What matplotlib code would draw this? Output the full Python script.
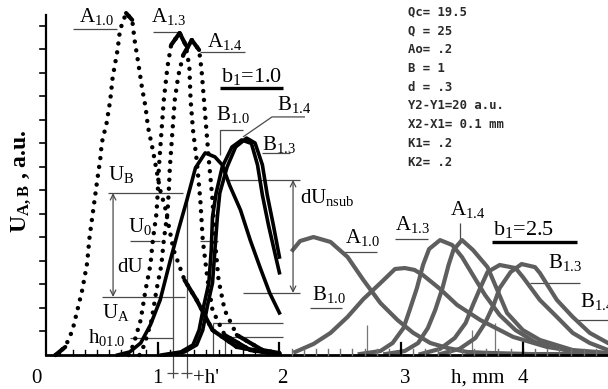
import numpy as np
import matplotlib
matplotlib.use('Agg')
import matplotlib.pyplot as plt
from matplotlib.collections import LineCollection

plt.rcParams['font.family'] = 'Liberation Serif'
plt.rcParams['mathtext.default'] = 'regular'

# --- b1 = 1.0 : signals of sensors A and B (h in mm, U in a.u.) ---
h_a10 = [0.16, 0.24, 0.30, 0.34, 0.38, 0.42, 0.44, 0.47, 0.50, 0.53, 0.54, 0.58,
         0.61, 0.63, 0.67, 0.69, 0.74, 0.79, 0.81, 0.84, 0.87, 0.90, 0.92, 0.96,
         0.99, 1.02, 1.06, 1.13, 1.22, 1.32, 1.45, 1.65, 1.92, 2.00]
u_a10 = [0.0, 0.34, 1.06, 1.91, 2.77, 3.91, 5.02, 6.17, 7.32, 8.43, 9.02, 9.87,
         10.85, 11.83, 12.98, 13.83, 14.55, 14.26, 13.40, 12.43, 11.40, 10.55, 9.70, 8.72,
         7.87, 7.02, 6.30, 4.47, 3.19, 2.34, 1.06, 0.34, 0.09, 0.06]

h_a13 = [0.76, 0.80, 0.86, 0.90, 0.94, 0.96, 0.99, 1.00, 1.01, 1.03, 1.05, 1.08, 1.11,
         1.18, 1.23, 1.26, 1.27, 1.29, 1.32, 1.35, 1.37, 1.41, 1.45, 1.55, 1.76, 2.00]
u_a13 = [0.0, 0.43, 1.49, 2.77, 3.83, 4.89, 6.04, 6.89, 8.0, 9.45, 10.85, 12.26, 13.19,
         13.70, 13.19, 12.26, 10.85, 9.57, 8.30, 6.60, 4.89, 3.19, 1.91, 0.85, 0.21, 0.04]

h_a14 = [0.85, 0.89, 0.95, 0.99, 1.03, 1.05, 1.08, 1.09, 1.10, 1.12, 1.14, 1.17, 1.21,
         1.28, 1.34, 1.36, 1.38, 1.40, 1.42, 1.45, 1.47, 1.50, 1.55, 1.65, 1.86, 2.00]
u_a14 = [0.0, 0.43, 1.49, 2.77, 3.83, 4.89, 6.04, 6.89, 8.0, 9.45, 10.85, 11.91, 12.77,
         13.40, 12.98, 12.13, 10.85, 9.57, 8.30, 6.60, 4.89, 3.19, 1.91, 0.85, 0.21, 0.08]

h_b10 = [0.67, 0.77, 0.86, 0.94, 1.02, 1.10, 1.17, 1.24, 1.31, 1.39, 1.47, 1.53,
         1.59, 1.68, 1.76, 1.84, 1.92, 2.00]
u_b10 = [0.0, 0.13, 0.51, 1.28, 2.34, 3.96, 5.32, 6.60, 7.96, 8.60, 8.43, 8.09,
         7.23, 6.17, 4.89, 3.74, 2.64, 1.79]

h_b13 = [1.06, 1.22, 1.32, 1.37, 1.41, 1.45, 1.47, 1.49, 1.51, 1.57, 1.64, 1.73,
         1.80, 1.86, 1.90, 1.95, 2.00]
u_b13 = [0.0, 0.13, 0.43, 1.06, 2.13, 3.06, 4.47, 5.87, 6.89, 8.0, 8.85, 9.23,
         9.02, 8.09, 6.81, 5.53, 4.17]

h_b14 = [1.03, 1.19, 1.29, 1.34, 1.38, 1.42, 1.44, 1.45, 1.48, 1.53, 1.61, 1.69,
         1.77, 1.82, 1.86, 1.91, 1.97, 2.00]
u_b14 = [0.0, 0.13, 0.43, 1.06, 2.13, 3.06, 4.47, 5.87, 6.89, 8.0, 8.85, 9.15,
         9.0, 8.09, 6.81, 5.53, 4.17, 3.5]

# --- b1 = 2.5 ---
h_ra10 = [2.11, 2.17, 2.28, 2.42, 2.56, 2.69, 2.83, 2.97, 3.10, 3.24, 3.38, 3.54, 3.71, 4.06, 4.70]
u_ra10 = [4.47, 4.85, 5.02, 4.81, 4.17, 3.19, 2.21, 1.49, 0.94, 0.51, 0.30, 0.13, 0.09, 0.04, 0.04]

h_rb10 = [2.13, 2.28, 2.42, 2.56, 2.69, 2.83, 2.95, 3.03, 3.11, 3.18, 3.32, 3.46, 3.65,
          3.92, 4.20, 4.47, 4.70]
u_rb10 = [0.13, 0.47, 0.94, 1.62, 2.38, 3.06, 3.66, 3.70, 3.62, 3.40, 2.81, 2.13, 1.49,
          0.77, 0.34, 0.13, 0.04]

h_ra13 = [2.66, 2.83, 2.93, 3.02, 3.07, 3.13, 3.18, 3.23, 3.32, 3.42, 3.50, 3.59, 3.69,
          3.81, 3.94, 4.10, 4.35, 4.70]
u_ra13 = [0.04, 0.17, 0.51, 1.15, 1.91, 2.85, 3.83, 4.51, 4.89, 4.68, 4.17, 3.40, 2.55,
          1.70, 1.06, 0.55, 0.21, 0.04]

h_ra14 = [2.87, 3.03, 3.14, 3.22, 3.28, 3.34, 3.39, 3.43, 3.50, 3.59, 3.71, 3.79, 3.87,
          4.00, 4.14, 4.41, 4.70]
u_ra14 = [0.04, 0.17, 0.51, 1.15, 1.91, 2.85, 3.83, 4.47, 4.89, 4.47, 3.74, 2.77, 1.79,
          1.06, 0.64, 0.21, 0.09]

h_rb13 = [3.16, 3.32, 3.44, 3.53, 3.59, 3.65, 3.71, 3.81, 3.94, 4.00, 4.14, 4.28, 4.41, 4.55, 4.70]
u_rb13 = [0.04, 0.26, 0.72, 1.36, 2.13, 2.85, 3.53, 3.83, 3.70, 3.32, 2.34, 1.62, 0.94, 0.51, 0.21]

h_rb14 = [3.32, 3.48, 3.61, 3.69, 3.76, 3.81, 3.90, 3.99, 4.10, 4.14, 4.28, 4.41, 4.55, 4.70]
u_rb14 = [0.04, 0.26, 0.72, 1.36, 2.13, 2.85, 3.53, 3.87, 3.74, 3.49, 2.34, 1.62, 0.94, 0.51]

params = ["Qc= 19.5", "Q = 25", "Ao= .2", "B = 1", "d = .3",
          "Y2-Y1=20 a.u.", "X2-X1= 0.1 mm", "K1= .2", "K2= .2"]
x_ticklabels = ["0", "1", "2", "3", "4"]
x_tickpos = [0.0, 1.0, 2.02, 3.03, 4.0]

fig = plt.figure(figsize=(6.08, 3.89), dpi=100)
ax = fig.add_axes([0, 0, 1, 1])
ax.set_xlim(-0.296, 4.70)
ax.set_ylim(-1.447, 15.106)
ax.axis('off')

LEAD = '#4a4a4a'


def leader(xs, ys, lw=0.9, color=LEAD):
    ax.plot(xs, ys, color=color, lw=lw, solid_capstyle='butt', zorder=2)


def label(x, y, main, sub, size=15, tail=''):
    ax.text(x, y, f'{main}$_{{{sub}}}${tail}', fontsize=size, ha='left',
            va='baseline', zorder=5)


def dotted_curve(h, u):
    # steep parts show as separate dots, flat parts merge into a solid stroke
    ax.plot(h, u, color='k', lw=3.2, ls=(0, (0.01, 2.0)), dash_capstyle='round', zorder=3)
    pts = ax.transData.transform(np.column_stack([h, u]))
    segs = []
    for i in range(len(h) - 1):
        dx, dy = pts[i + 1] - pts[i]
        if abs(dy) < 2.0 * abs(dx):
            segs.append([(h[i], u[i]), (h[i + 1], u[i + 1])])
    ax.add_collection(LineCollection(segs, colors='k', linewidths=3,
                                     capstyle='round', zorder=3))


# axes
ax.plot([0.082, 0.082], [0, 14.47], color='k', lw=1.6, zorder=4)
ax.plot([0.082, 4.70], [0, 0], color='k', lw=2.0, zorder=4)
for yt in range(1, 15):
    ax.plot([0.033, 0.082], [yt, yt], color='k', lw=1.2, zorder=4)
for xt in np.arange(0.2, 1.95, 0.1):
    ax.plot([xt, xt], [0, 0.22], color='k', lw=1.0, zorder=4)
for xt in np.arange(2.1, 4.65, 0.1):
    ax.plot([xt, xt], [0, 0.25], color='#707070', lw=1.0, zorder=4)
for xt in [1.0, 2.0, 3.0, 4.0]:
    ax.plot([xt, xt], [0, 0.5], color='k', lw=1.6, zorder=4)
for xt, lab in zip(x_tickpos, x_ticklabels):
    ax.text(xt, -1.19, lab, fontsize=15, ha='center', va='baseline')
ax.text(3.63, -1.19, 'h, mm', fontsize=15, ha='center', va='baseline')
ax.text(-0.12, 7.4, 'U$_{A,B}$ , a.u.', rotation=90, fontsize=17,
        fontweight='bold', ha='center', va='center')

# curves for b1 = 1.0
dotted_curve(h_a10, u_a10)
dotted_curve(h_a13, u_a13)
dotted_curve(h_a14, u_a14)
for h, u in [(h_b10, u_b10), (h_b13, u_b13), (h_b14, u_b14)]:
    ax.plot(h, u, color='k', lw=2.6, solid_joinstyle='round', zorder=3)

# curves for b1 = 2.5
for h, u in [(h_ra10, u_ra10), (h_rb10, u_rb10), (h_ra13, u_ra13),
             (h_ra14, u_ra14), (h_rb13, u_rb13), (h_rb14, u_rb14)]:
    ax.plot(h, u, color='#5e5e5e', lw=3.0, solid_joinstyle='round', zorder=3)

# labels, b1 = 1.0
label(0.353, 14.17, 'A', '1.0')
leader([0.304, 0.666], [13.87, 13.87])
label(0.945, 14.17, 'A', '1.3')
leader([0.961, 1.183], [13.74, 13.74])
label(1.405, 13.11, 'A', '1.4')
leader([1.348, 1.717], [12.89, 12.89])
label(1.520, 11.62, 'b', '1', size=16, tail='=1.0')
leader([1.512, 2.030], [11.36, 11.36], lw=2.4, color='k')
label(1.479, 10.0, 'B', '1.0')
leader([1.701, 1.512, 1.512], [9.57, 9.57, 8.51])
label(1.980, 10.43, 'B', '1.4')
leader([2.210, 1.939, 1.701], [10.13, 10.13, 9.28])
label(1.857, 8.72, 'B', '1.3')
leader([1.857, 2.087], [8.60, 8.60])

# level marks
label(0.592, 7.45, 'U', 'B')
leader([0.592, 1.208], [6.89, 6.89])
label(0.756, 5.23, 'U', '0')
leader([0.772, 1.019], [4.85, 4.85])
leader([1.348, 1.495], [4.85, 4.85])
ax.text(0.666, 3.53, 'dU', fontsize=15, ha='left', va='baseline')
ax.annotate('', xy=(0.633, 2.47), xytext=(0.633, 6.89),
            arrowprops=dict(arrowstyle='<->', color=LEAD, lw=0.9, shrinkA=0, shrinkB=0))
label(0.542, 1.57, 'U', 'A')
leader([0.542, 1.224], [2.47, 2.47])
label(0.427, 0.51, 'h', '01.0')
leader([0.772, 1.126], [0.72, 0.72])
leader([1.569, 2.169], [7.45, 7.45])
leader([1.701, 2.169], [2.64, 2.64])
ax.annotate('', xy=(2.112, 2.64), xytext=(2.112, 7.45),
            arrowprops=dict(arrowstyle='<->', color=LEAD, lw=0.9, shrinkA=0, shrinkB=0))
label(2.169, 6.47, 'dU', 'nsub')
leader([1.126, 1.126], [4.85, -0.98])
leader([1.241, 1.241], [6.89, -0.98])
leader([1.08, 1.17], [-0.77, -0.77])
leader([1.19, 1.28], [-0.77, -0.77])
ax.text(1.29, -1.19, "+h'", fontsize=15, ha='left', va='baseline')
leader([1.454, 2.030], [1.36, 1.36])
leader([1.454, 1.454], [1.36, 0])
leader([1.553, 2.030], [0.77, 0.77])
leader([1.553, 1.553], [0.77, 0])

# labels, b1 = 2.5
label(2.539, 4.77, 'A', '1.0')
leader([2.514, 2.802], [4.38, 4.38])
label(2.268, 2.34, 'B', '1.0')
leader([2.251, 2.514], [2.0, 2.0])
label(2.950, 5.32, 'A', '1.3')
leader([2.950, 3.221], [4.94, 4.94])
label(3.402, 5.96, 'A', '1.4')
leader([3.484, 3.484], [5.62, 4.89])
label(3.755, 5.11, 'b', '1', size=16, tail='=2.5')
leader([3.747, 4.445], [4.81, 4.81], lw=2.4, color='k')
label(4.207, 3.70, 'B', '1.3')
leader([4.059, 4.470], [3.06, 3.06])
label(4.470, 2.04, 'B', '1.4')
leader([4.454, 4.70], [1.49, 1.49])
for xv, top in [(2.72, 1.28), (3.58, 1.06), (3.77, 1.36)]:
    leader([xv, xv], [0, top], color='#777777')

# simulation parameters
for i, line in enumerate(params):
    ax.text(3.057, 14.60 - 0.8 * i, line, family='DejaVu Sans Mono', fontsize=8.8,
            fontweight='bold', color='#2a2a2a', ha='left', va='center')

fig.savefig('out.png', dpi=100, facecolor='white')
